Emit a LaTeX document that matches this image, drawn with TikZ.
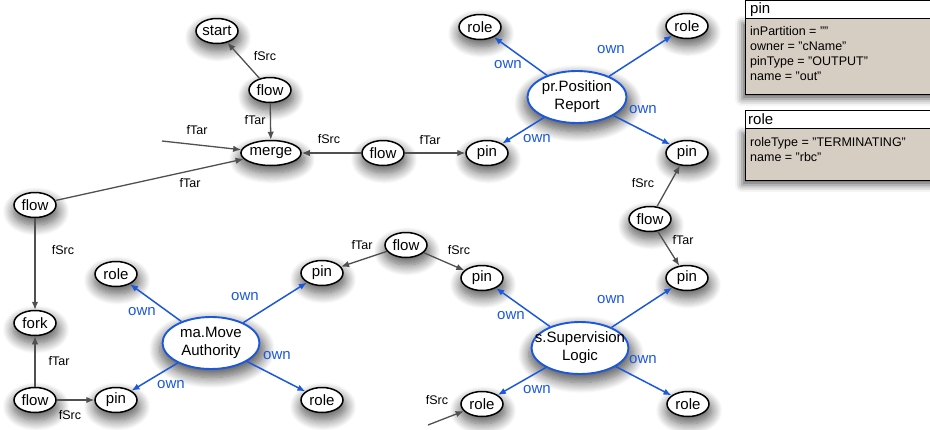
\documentclass[tikz,border=0pt]{standalone}
\usepackage{fontspec}
\setmainfont{Liberation Sans}
\usetikzlibrary{shapes.geometric,arrows.meta,shadows.blur}
\definecolor{ownblue}{RGB}{28,88,220}
\definecolor{edgegray}{RGB}{80,80,80}
\definecolor{bodytan}{RGB}{214,205,195}
\tikzset{
  sh/.style={blur shadow={shadow xshift=1pt,shadow yshift=-6pt,shadow scale=1.08,
    shadow blur radius=10pt,shadow blur steps=12,shadow opacity=65}},
  obj/.style={ellipse,draw=black,line width=1.5pt,fill=white,inner sep=0pt,
    minimum width=42pt,minimum height=25pt,font=\fontsize{15}{16}\selectfont,sh},
  wideobj/.style={obj,minimum width=58pt},
  comp/.style={ellipse,draw=ownblue,line width=1.9pt,fill=white,inner sep=0pt,
    minimum width=97pt,minimum height=52pt,align=center,
    font=\fontsize{15}{18}\selectfont,sh},
  flowedge/.style={draw=edgegray,line width=1.3pt,-{Latex[length=8pt,width=6.5pt]}},
  ownedge/.style={draw=ownblue,line width=1.5pt,-{Latex[length=8pt,width=6.5pt]}},
  flab/.style={font=\fontsize{12.5}{13}\selectfont,inner sep=0pt},
  olab/.style={font=\fontsize{15}{16}\selectfont,text=ownblue,inner sep=0pt},
  boxshadow/.style={blur shadow={shadow xshift=-3pt,shadow yshift=-5pt,shadow blur radius=7pt,shadow opacity=60}},
  headtext/.style={anchor=west,inner sep=0pt,font=\fontsize{15}{16}\selectfont},
  bodytext/.style={anchor=north west,inner sep=0pt,align=left,
    font=\fontsize{12.5}{15}\selectfont},
}
\begin{document}
\begin{tikzpicture}[x=1pt,y=-1pt]
\useasboundingbox (0,0) rectangle (930,429);

% flow / control nodes
\node[obj]     (start)  at (217,31)  {start};
\node[obj]     (flowA)  at (270,90)  {flow};
\node[wideobj] (merge)  at (271,153) {merge};
\node[obj]     (flowB)  at (383,153) {flow};
\node[obj]     (flowL)  at (35,205)  {flow};
\node[obj]     (fork)   at (35,323)  {fork};
\node[obj]     (flowBL) at (35,400)  {flow};
\node[obj]     (flowM)  at (406,245) {flow};
\node[obj]     (flowR)  at (650,219) {flow};

% pr.Position Report and its parts
\node[comp] (pr) at (577,97) {pr.Position\\Report};
\node[obj] (prRoleA) at (480,27)  {role};
\node[obj] (prRoleB) at (687,26)  {role};
\node[obj] (prPinA)  at (487,153) {pin};
\node[obj] (prPinB)  at (687,153) {pin};

% ma.Move Authority and its parts
\node[comp] (ma) at (211,343) {ma.Move\\Authority};
\node[obj] (maRoleA) at (116,274) {role};
\node[obj] (maPinA)  at (322,273) {pin};
\node[obj] (maPinB)  at (116,400) {pin};
\node[obj] (maRoleB) at (322,400) {role};

% s.Supervision Logic and its parts (its name runs over the outline)
\node[comp,inner xsep=-12pt] (sl) at (580,348) {s.Supervision\\Logic};
\node[obj] (slPinA)  at (482,278) {pin};
\node[obj] (slPinB)  at (687,278) {pin};
\node[obj] (slRoleA) at (482,404) {role};
\node[obj] (slRoleB) at (688,404) {role};

% loose ends
\coordinate (inMerge) at (162,141);
\coordinate (inRole)  at (428,425);

% flow connectors
\draw[flowedge] (flowA) -- (start);
\draw[flowedge] (flowA) -- (merge);
\draw[flowedge] (inMerge) -- (merge);
\draw[flowedge] (flowL) -- (merge);
\draw[flowedge] (flowB) -- (merge);
\draw[flowedge] (flowB) -- (prPinA);
\draw[flowedge] (flowR) -- (prPinB);
\draw[flowedge] (flowR) -- (slPinB);
\draw[flowedge] (flowL) -- (fork);
\draw[flowedge] (flowBL) -- (fork);
\draw[flowedge] (flowBL) -- (maPinB);
\draw[flowedge] (flowM) -- (maPinA);
\draw[flowedge] (flowM) -- (slPinA);
\draw[flowedge] (inRole) -- (slRoleA);

% ownership connectors
\draw[ownedge] (pr) -- (prRoleA);
\draw[ownedge] (pr) -- (prRoleB);
\draw[ownedge] (pr) -- (prPinA);
\draw[ownedge] (pr) -- (prPinB);
\draw[ownedge] (ma) -- (maRoleA);
\draw[ownedge] (ma) -- (maPinA);
\draw[ownedge] (ma) -- (maPinB);
\draw[ownedge] (ma) -- (maRoleB);
\draw[ownedge] (sl) -- (slPinA);
\draw[ownedge] (sl) -- (slPinB);
\draw[ownedge] (sl) -- (slRoleA);
\draw[ownedge] (sl) -- (slRoleB);

% flow labels
\node[flab] (t1)  at (265,56)  {fSrc};
\node[flab] (t2)  at (255,120) {fTar};
\node[flab] (t3)  at (197,130) {fTar};
\node[flab] (t4)  at (190,183) {fTar};
\node[flab] (t5)  at (329,139) {fSrc};
\node[flab] (t6)  at (430,140) {fTar};
\node[flab] (t7)  at (643,183) {fSrc};
\node[flab] (t8)  at (683,240) {fTar};
\node[flab] (t9)  at (63,250)  {fSrc};
\node[flab] (t10) at (59,361)  {fTar};
\node[flab] (t11) at (70,415)  {fSrc};
\node[flab] (t12) at (362,245) {fTar};
\node[flab] (t13) at (459,250) {fSrc};
\node[flab] (t14) at (437,400) {fSrc};

% ownership labels
\node[olab] (o1)  at (508,65)  {own};
\node[olab] (o2)  at (611,50)  {own};
\node[olab] (o3)  at (537,139) {own};
\node[olab] (o4)  at (643,110) {own};
\node[olab] (o5)  at (142,312) {own};
\node[olab] (o6)  at (245,297) {own};
\node[olab] (o7)  at (171,385) {own};
\node[olab] (o8)  at (277,356) {own};
\node[olab] (o9)  at (511,316) {own};
\node[olab] (o10) at (611,300) {own};
\node[olab] (o11) at (537,390) {own};
\node[olab] (o12) at (643,360) {own};

% attribute panel: pin
\path[boxshadow,fill=bodytan,draw=black,line width=0.8pt] (745,18) rectangle (940,94);
\path[fill=white,draw=black,line width=0.8pt] (745,0) rectangle (940,18);
\node[headtext] (pinHead) at (750,9.5) {pin};
\node[bodytext] (pinBody) at (750,26) {inPartition = ""\\owner = "cName"\\pinType = "OUTPUT"\\name = "out"};

% attribute panel: role
\path[boxshadow,fill=bodytan,draw=black,line width=0.8pt] (745,128) rectangle (940,180);
\path[fill=white,draw=black,line width=0.8pt] (745,110) rectangle (940,128);
\node[headtext] (roleHead) at (748,119) {role};
\node[bodytext] (roleBody) at (750,137) {roleType = "TERMINATING"\\name = "rbc"};
\end{tikzpicture}
\end{document}
